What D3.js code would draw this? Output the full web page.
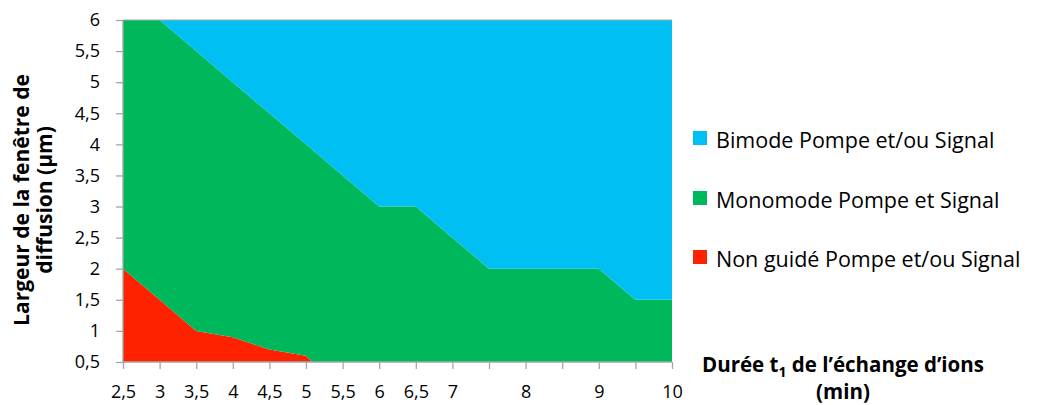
<!DOCTYPE html>
<html><head><meta charset="utf-8">
<script src="https://cdn.jsdelivr.net/npm/d3@7"></script>
<style>body{margin:0;background:#fff}svg{display:block}text{font-family:"Open Sans",sans-serif;fill:#000}</style>
</head><body><svg id="c" width="1047" height="405"></svg>
<script>
const categories = [2.5,3,3.5,4,4.5,5,5.5,6,6.5,7,7.5,8,8.5,9,9.5,10];
const xTickLabels = ["2,5","3","3,5","4","4,5","5","5,5","6","6,5","7","","8","","9","","10"];
const nonGuide = [2,1.5,1,0.9,0.7,0.6,0,0,0,0,0,0,0,0,0,0];
const monomode = [4,4.5,4.5,4.1,3.8,3.4,3.5,3,3,2.5,2,2,2,2,1.5,1.5];
const bimode   = [0,0,0.5,1,1.5,2,2.5,3,3,3.5,4,4,4,4,4.5,4.5];
const yTicks = [0.5,1,1.5,2,2.5,3,3.5,4,4.5,5,5.5,6];
const seriesNames = ["Non guidé Pompe et/ou Signal","Monomode Pompe et Signal","Bimode Pompe et/ou Signal"];
const colors = ["#FF2200","#00B85C","#00BFF3"];

const svg = d3.select("#c");
const L=123,R=672,T=20,B=362;
const x = d3.scalePoint().domain(d3.range(categories.length)).range([L,R]);
const y = d3.scaleLinear().domain([0.5,6]).range([B,T]);

const table = categories.map((c,i)=>({i, a:nonGuide[i], b:monomode[i], c:bimode[i]}));
const stack = d3.stack().keys(["a","b","c"])(table);
svg.append("clipPath").attr("id","clip").append("rect").attr("x",L).attr("y",T).attr("width",R-L).attr("height",B-T);
const area = d3.area().x(d=>x(d.data.i)).y0(d=>y(d[0])).y1(d=>y(d[1]));
svg.append("g").attr("clip-path","url(#clip)").selectAll("path").data(stack).join("path")
  .attr("d",area).attr("fill",(d,i)=>colors[i]);

const ax = "#A6A6A6";
svg.append("line").attr("x1",L).attr("x2",R).attr("y1",T).attr("y2",T).attr("stroke",ax);
const ya = svg.append("g").attr("transform",`translate(${L},0)`)
 .call(d3.axisLeft(y).tickValues(yTicks).tickSize(7).tickPadding(16).tickFormat(d=>String(d).replace(".",",")));
const xa = svg.append("g").attr("transform",`translate(0,${B})`)
 .call(d3.axisBottom(x).tickSize(7).tickPadding(16).tickFormat(i=>xTickLabels[i]));
[ya,xa].forEach(g=>{g.selectAll("path,line").attr("stroke",ax).attr("stroke-width",1.3);
  g.selectAll("text").style("font-size","18px").style("font-family","Open Sans").attr("fill","#000");});
ya.select(".domain").attr("d",`M0,${T}V${B}`);
xa.select(".domain").attr("d",`M${L},0H${R}`);

// y title
const yt = svg.append("text").attr("transform","translate(29,200) rotate(-90)").attr("text-anchor","middle")
 .style("font-weight","bold").style("font-size","21px");
yt.append("tspan").attr("x",0).attr("dy",0).text("Largeur de la fenêtre de");
yt.append("tspan").attr("x",0).attr("dy",23).text("diffusion (µm)");

// x title
const xt1 = svg.append("text").attr("text-anchor","middle").attr("x",843).attr("y",372)
 .style("font-weight","bold").style("font-size","20.5px");
xt1.append("tspan").text("Durée t");
xt1.append("tspan").attr("dy",5).style("font-size","14px").text("1");
xt1.append("tspan").attr("dy",-5).text(" de l’échange d’ions");
svg.append("text").attr("text-anchor","middle").attr("x",843).attr("y",399)
 .style("font-weight","bold").style("font-size","20.5px").text("(min)");

// legend
const leg = [2,1,0];
const ly = [148,208,267];
leg.forEach((k,j)=>{
  svg.append("rect").attr("x",693).attr("y",ly[j]-17).attr("width",14).attr("height",14).attr("fill",colors[k]);
  svg.append("text").attr("x",716).attr("y",ly[j]).style("font-size","21.5px").text(seriesNames[k]);
});
</script></body></html>
